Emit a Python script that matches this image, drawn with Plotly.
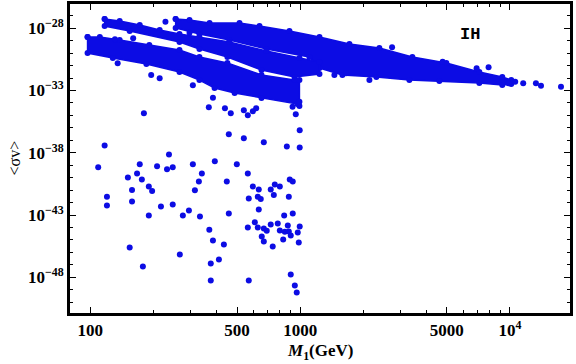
import plotly.graph_objects as go
import numpy as np

# dense bands, read as edge outlines (M in GeV, log10 <sigma v>)
main_top_m = [255, 297, 370, 514, 640, 889, 1236, 1717, 2385, 3426, 4974, 7143, 9190, 10140]
main_top_e = [-27.25, -27.33, -27.57, -27.57, -27.82, -28.22, -28.70, -29.26, -29.58, -30.31, -30.79, -31.51, -31.92, -32.16]
main_bot_m = [255, 331, 460, 691, 1107, 1236, 1590, 2308, 3315, 4606, 7143, 9190, 10140]
main_bot_e = [-27.98, -28.46, -28.94, -29.66, -30.31, -31.19, -31.75, -31.92, -32.16, -32.24, -32.40, -32.56, -32.48]

mid_top_m = [117, 138, 172, 214, 266, 331, 460, 691, 992, 1236]
mid_top_e = [-27.25, -27.41, -27.73, -28.14, -28.46, -28.70, -29.10, -29.82, -30.39, -30.71]
mid_bot_m = [117, 154, 266, 331, 450, 654, 940, 1236]
mid_bot_e = [-27.82, -28.22, -29.10, -29.66, -30.31, -31.35, -31.92, -31.67]

low_top_m = [97, 111, 138, 191, 266, 331, 450, 654, 940, 992]
low_top_e = [-28.70, -28.70, -28.94, -29.34, -29.74, -30.31, -30.79, -31.75, -32.16, -32.16]
low_bot_m = [97, 128, 185, 266, 331, 391, 487, 654, 971, 992]
low_bot_e = [-29.99, -30.39, -30.87, -31.51, -32.16, -32.80, -33.20, -33.60, -34.09, -34.25]

# scattered points
pts_m = [109, 117, 180, 120, 172, 237, 151, 167, 176, 208,
         232, 247, 158, 190, 197, 308, 340, 329, 315, 392,
         367, 438, 467, 457, 539, 539, 563, 595, 617, 671,
         499, 447, 563, 595, 635, 757, 800, 724, 892, 922,
         864, 995, 995, 953, 569, 628, 649, 120, 158, 217,
         247, 190, 276, 295, 333, 457, 749, 883, 635, 839,
         922, 369, 384, 433, 563, 608, 628, 671, 693, 724,
         782, 800, 845, 873, 883, 995, 974, 902, 830, 656,
         671, 740, 985, 154, 267, 178, 375, 410, 375, 569,
         902, 943, 963, 384, 308, 135, 195, 214, 131, 160,
         228, 297, 2742, 4775, 6934, 7907, 9840, 10590, 11560, 13290,
         14050, 17500, 2138, 1456, 1656, 920, 992]
pts_e = [-39.17, -37.41, -34.83, -41.54, -38.93, -38.13, -39.98, -39.66, -40.14, -39.09,
         -39.33, -39.17, -41.00, -40.70, -41.08, -38.93, -39.66, -40.30, -41.02, -38.69,
         -34.35, -34.43, -34.83, -36.52, -36.84, -34.59, -34.99, -34.67, -34.43, -37.16,
         -38.93, -40.30, -39.66, -40.70, -40.94, -40.54, -40.70, -40.94, -40.14, -40.30,
         -37.49, -36.20, -37.57, -34.91, -41.67, -41.54, -41.72, -42.23, -41.91, -42.31,
         -42.15, -43.03, -43.03, -42.63, -43.11, -42.87, -41.40, -41.54, -42.55, -43.03,
         -42.87, -44.19, -45.04, -45.36, -44.00, -43.59, -44.00, -44.08, -44.27, -43.76,
         -43.68, -44.24, -44.35, -43.84, -44.32, -43.92, -44.40, -44.64, -44.96, -44.72,
         -45.12, -45.52, -45.20, -45.60, -46.17, -47.13, -46.89, -46.57, -48.26, -48.26,
         -47.78, -48.66, -49.22, -33.58, -32.58, -30.81, -31.75, -32.02, -28.88, -28.80,
         -27.47, -28.35, -29.53, -30.68, -31.22, -31.14, -32.42, -32.29, -32.42, -32.42,
         -32.61, -32.69, -32.16, -31.75, -31.62, -34.30, -33.90]

x_ticks = [100, 500, 1000, 5000, 10000]
x_ticktext = ["100", "500", "1000", "5000", "10<sup>4</sup>"]
y_exps = [-28, -33, -38, -43, -48]

blue = "rgb(12,12,228)"

fig = go.Figure()

bands = [
    (main_top_m, main_top_e, main_bot_m, main_bot_e),
    (mid_top_m, mid_top_e, mid_bot_m, mid_bot_e),
    (low_top_m, low_top_e, low_bot_m, low_bot_e),
]
for tm, te, bm, be in bands:
    xs = tm + bm[::-1] + [tm[0]]
    ys = list(10.0 ** np.array(te + be[::-1] + [te[0]]))
    fig.add_trace(go.Scatter(
        x=xs, y=ys, mode="lines+markers", fill="toself", fillcolor=blue,
        line=dict(color=blue, width=1.5), marker=dict(color=blue, size=6),
        hoverinfo="skip", showlegend=False,
    ))

fig.add_trace(go.Scatter(
    x=pts_m, y=10.0 ** np.array(pts_e), mode="markers",
    marker=dict(color=blue, size=6), showlegend=False,
))

tick_font = dict(family="Liberation Serif", size=17, color="black", weight="bold")

fig.update_xaxes(
    type="log", range=[np.log10(80), 4.286], automargin=False,
    tickvals=x_ticks, ticktext=x_ticktext, tickfont=tick_font,
    ticks="inside", ticklen=6, tickwidth=1, tickcolor="black",
    minor=dict(tickvals=[200, 300, 400, 600, 700, 800, 900, 2000, 3000, 4000,
                         6000, 7000, 8000, 9000],
               ticks="inside", ticklen=3, tickcolor="black"),
    showline=True, linecolor="black", linewidth=3, mirror="allticks",
    showgrid=False, zeroline=False,
)
fig.update_yaxes(
    type="log", range=[-50.87, -26.05], automargin=False,
    tickvals=[10.0 ** e for e in y_exps],
    ticktext=["10<sup>\u2212%d</sup>" % (-e) for e in y_exps],
    tickfont=tick_font,
    ticks="inside", ticklen=6, tickwidth=1, tickcolor="black",
    minor=dict(tickvals=[10.0 ** -k for k in range(26, 51)],
               ticks="inside", ticklen=3, tickcolor="black"),
    showline=True, linecolor="black", linewidth=3, mirror="allticks",
    showgrid=False, zeroline=False,
)

fig.add_annotation(
    x=0.5, y=-0.125, xref="paper", yref="paper",
    xanchor="center", yanchor="middle",
    text="<i>M</i><sub>1</sub>(GeV)", showarrow=False,
    font=dict(family="Liberation Serif", size=17, color="black", weight="bold"),
)
fig.add_annotation(
    x=-0.112, y=0.5, xref="paper", yref="paper", textangle=-90,
    xanchor="center", yanchor="middle",
    text="&lt;σv&gt;", showarrow=False,
    font=dict(family="Liberation Serif", size=16, color="black"),
)
fig.add_annotation(
    x=0.8, y=0.9, xref="paper", yref="paper", text="IH", showarrow=False,
    xanchor="center", yanchor="middle",
    font=dict(family="Liberation Mono", size=17, color="black", weight="bold"),
)

fig.update_layout(
    width=576, height=364,
    margin=dict(l=70, r=6, t=4, b=51),
    plot_bgcolor="white", paper_bgcolor="white",
)

# page body has a default 8px margin; remove it so the figure fills the window
fig.write_html("out.html", config={"displayModeBar": False},
               post_script="document.body.style.margin='0';")
